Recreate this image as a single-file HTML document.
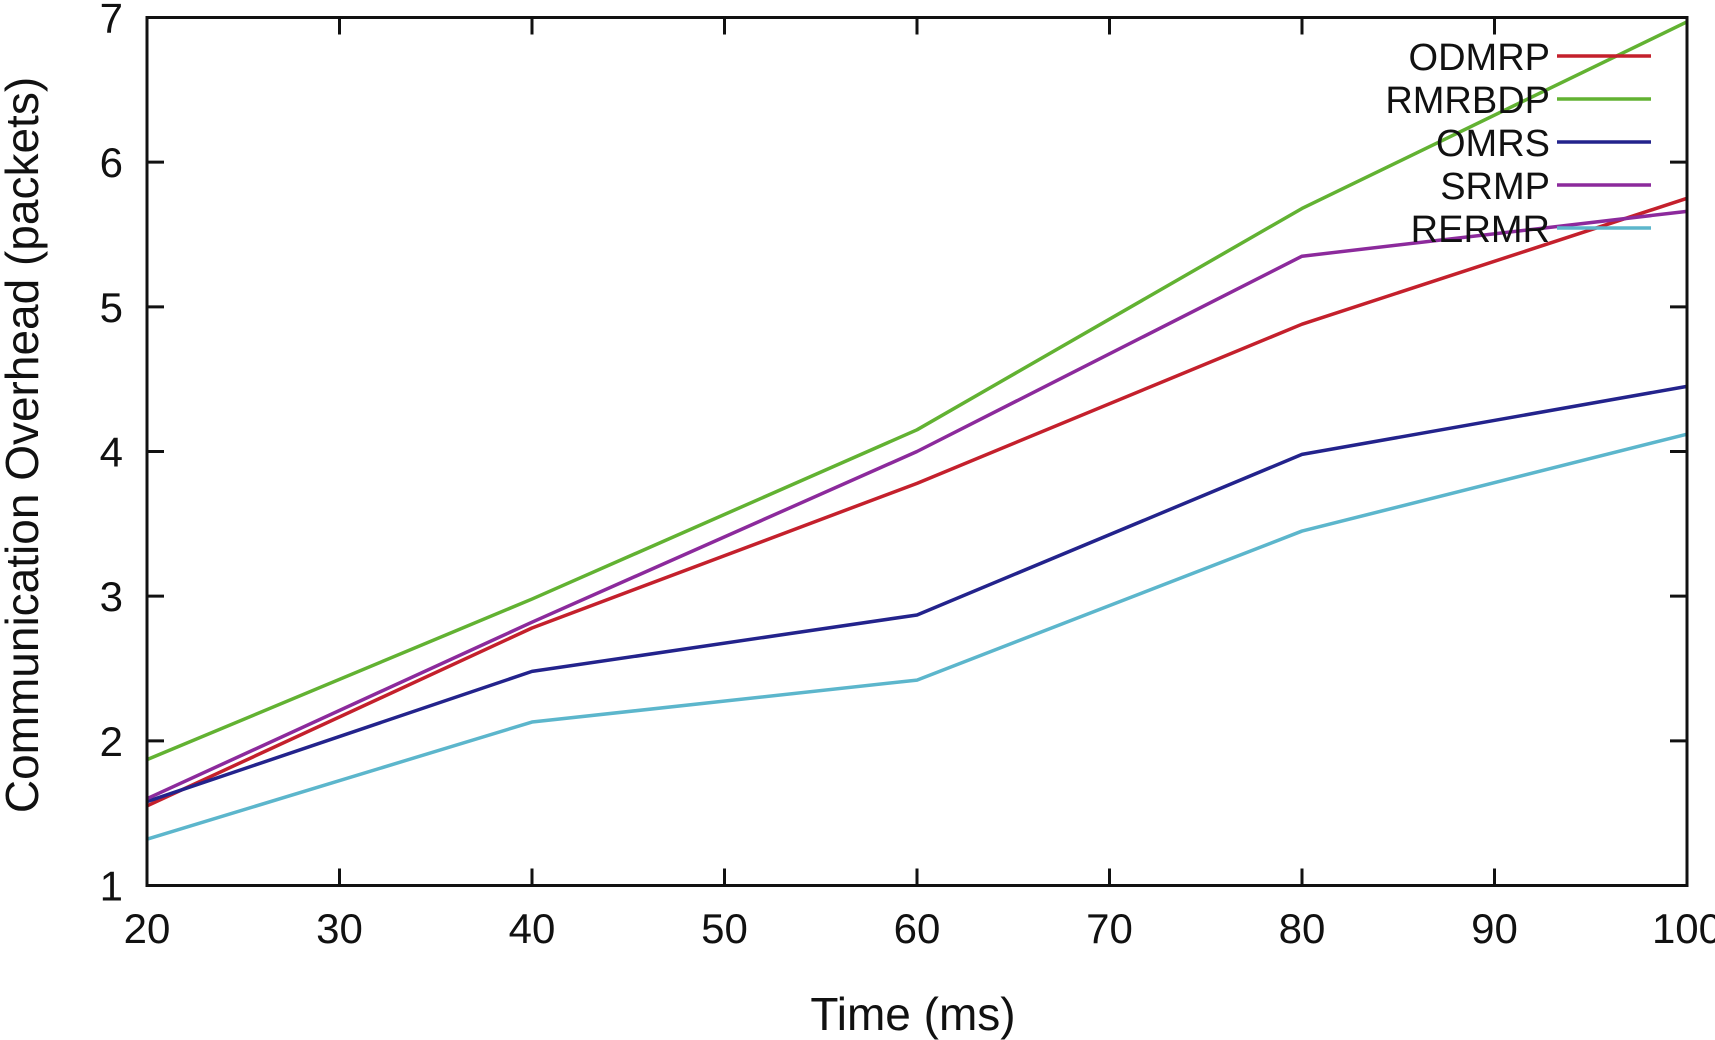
<!DOCTYPE html>
<html><head><meta charset="utf-8"><style>
html,body{margin:0;padding:0;background:#fff;}
svg{display:block;font-family:"Liberation Sans",sans-serif;}
</style></head><body>
<svg id="chart" width="1715" height="1040"></svg>
<script>
const categories=[20,40,60,80,100];
const xTicks=[20,30,40,50,60,70,80,90,100];
const yTicks=[1,2,3,4,5,6,7];
const seriesNames=["ODMRP","RMRBDP","OMRS","SRMP","RERMR"];
const odmrp=[1.55,2.78,3.78,4.88,5.75];
const rmrbdp=[1.87,2.98,4.15,5.68,6.97];
const omrs=[1.58,2.48,2.87,3.98,4.45];
const srmp=[1.6,2.82,4.0,5.35,5.66];
const rermr=[1.32,2.13,2.42,3.45,4.12];
const colors=["#c4202c","#62b232","#23238c","#8c2a9c","#5cb6cc"];

const L=147,R=1687,T=17.5,B=885.5;
const xs=v=>L+(v-20)/80*(R-L);
const ys=v=>B-(v-1)/6*(B-T);
const NS="http://www.w3.org/2000/svg";
const svg=document.getElementById('chart');
function mk(tag,attrs,parent){const e=document.createElementNS(NS,tag);for(const k in attrs)e.setAttribute(k,attrs[k]);(parent||svg).appendChild(e);return e;}

const grid=mk('g',{});


xTicks.forEach(t=>{
  const x=xs(t);
  const tk=mk('line',{x1:x,x2:x,y1:B,y2:B-17,stroke:'#111','stroke-width':3},grid);
  
  
  const tk2=mk('line',{x1:x,x2:x,y1:T,y2:T+17,stroke:'#111','stroke-width':3},grid);
  
  
  const lb=mk('text',{x:x,y:943,'text-anchor':'middle','font-size':42,fill:'#111'},grid);
  lb.textContent=t;
  
  
});
yTicks.forEach(t=>{
  const y=ys(t);
  const tk=mk('line',{x1:L,x2:L+17,y1:y,y2:y,stroke:'#111','stroke-width':3},grid);
  
  
  const tk2=mk('line',{x1:R,x2:R-17,y1:y,y2:y,stroke:'#111','stroke-width':3},grid);
  
  
  const lb=mk('text',{x:123,y:y+15,'text-anchor':'end','font-size':42,fill:'#111'},grid);
  lb.textContent=t;
  
  
});

const data=[odmrp,rmrbdp,omrs,srmp,rermr];
data.forEach((s,i)=>{
  const p=mk('polyline',{points:s.map((v,j)=>xs(categories[j])+','+ys(v)).join(' '),fill:'none',stroke:colors[i],'stroke-width':3.5,'stroke-linejoin':'round'});
  
  
});

const frame=mk('rect',{x:L,y:T,width:R-L,height:B-T,fill:'none',stroke:'#111','stroke-width':3});



const leg=mk('g',{});


seriesNames.forEach((n,i)=>{
  const y=56+i*43;
  const t=mk('text',{x:1550,y:y+14,'text-anchor':'end','font-size':38,fill:'#111'},leg);
  t.textContent=n;
  
  
  const l=mk('line',{x1:1557,x2:1651,y1:y,y2:y,stroke:colors[i],'stroke-width':3.5},leg);
  
  
});

const xt=mk('text',{x:913,y:1030,'text-anchor':'middle','font-size':46,fill:'#111'});
xt.textContent='Time (ms)';


const yt=mk('text',{x:0,y:0,'text-anchor':'middle','font-size':46,fill:'#111',transform:'translate(38,445) rotate(-90)'});
yt.textContent='Communication Overhead (packets)';


</script>
</body></html>
